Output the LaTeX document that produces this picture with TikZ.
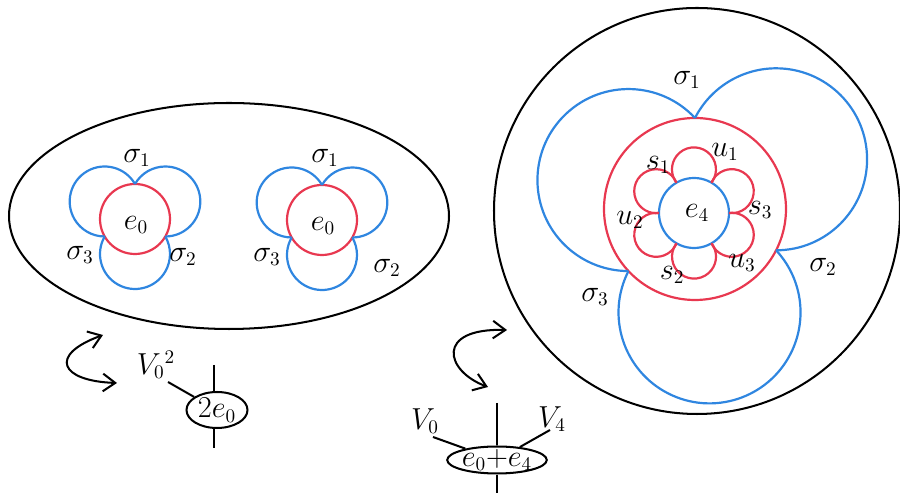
\documentclass[tikz,border=0pt]{standalone}
\usepackage{amsmath}
\usepackage{amssymb}
\usepackage{tikz}
\usetikzlibrary{
	arrows.meta,
	calc,
	shapes.geometric
}
\usepackage{xcolor}
\definecolor{loopred}{RGB}{232,56,80}
\definecolor{loopblue}{RGB}{47,134,224}

\begin{document}
\begin{tikzpicture}[x=0.02cm,y=0.02cm,
		line width=1.15pt,
		font=\fontsize{16}{19}\selectfont,
		redloop/.style={draw=loopred, line width=1.25pt},
		blueloop/.style={draw=loopblue, line width=1.25pt},
		vertex/.style={draw, ellipse, inner sep=0pt},
		>={Straight Barb[length=7pt,width=10pt]}]
		
		\useasboundingbox (0,0) rectangle (900,493);
		
		% Left ellipse
		\draw (229,277) ellipse [x radius=220, y radius=113];
		
		% Two small flowers
		\foreach \cx/\cy/\nm in {135/274/A, 322/273/B}{
			\coordinate (c\nm) at (\cx,\cy);
			\draw[redloop] (c\nm) circle [radius=35];
			\foreach \a/\b in {90/210, 210/330, 330/450}
			\draw[blueloop] (c\nm) ++(\a:35) arc [start angle=\b-180, end angle=\a+180, radius=35];
			\node (e\nm) at ($(c\nm)+(1,-6)$) {$e_0$};
		}
		\node (sigA1) at (137,335) {$\sigma_1$};
		\node (sigA2) at (183,236) {$\sigma_2$};
		\node (sigA3) at (80,238) {$\sigma_3$};
		\node (sigB1) at (325,335) {$\sigma_1$};
		\node (sigB2) at (387,225) {$\sigma_2$};
		\node (sigB3) at (267,236) {$\sigma_3$};
		
		% Big circle
		\draw (697,282) circle [radius=203];
		\coordinate (cR) at (695,284);
		\draw[redloop] (cR) circle [radius=91];
		\foreach \a/\b in {90/223, 223/333, 333/450}
		\draw[blueloop] (cR) ++(\a:91) arc [start angle=\b-180, end angle=\a+180, radius=91];
		
		% Inner flower
		\coordinate (cI) at (694,280);
		\draw[blueloop] (cI) circle [radius=35];
		\foreach \t in {90,30,...,-210}
		\draw[redloop] (cI) ++({\t-30}:35) arc [start angle=\t-127.2, end angle=\t+127.2, radius=22];
		\node (eR) at (697,280) {$e_4$};
		\node (sR1) at (658,328) {$s_1$};
		\node (sR2) at (672,218) {$s_2$};
		\node (sR3) at (760,283) {$s_3$};
		\node (uR1) at (725,341) {$u_1$};
		\node (uR2) at (630,273) {$u_2$};
		\node (uR3) at (742,230) {$u_3$};
		\node (sigR1) at (687,413) {$\sigma_1$};
		\node (sigR2) at (823,226) {$\sigma_2$};
		\node (sigR3) at (595,196) {$\sigma_3$};
		
		% Vertex 2e_0
		\node[vertex, minimum width=1.22cm, minimum height=0.72cm] (dbl) at (217,83) {$2e_0$};
		\coordinate (dblup) at (214,128);
		\coordinate (dbldown) at (214,45);
		\coordinate (dblleg) at (168,111);
		\draw (dblup) -- (dblup |- dbl.north);
		\draw (dbldown |- dbl.south) -- (dbldown);
		\draw (dblleg) -- (dbl);
		\node (dbllabel) at (156,128) {$V_0{}^2$};
		
		\coordinate (swapAa) at (117,110);
		\coordinate (swapAb) at (103,158);
		\draw[<->] (swapAa) .. controls (60,112) and (48,138) .. (swapAb);
		
		% Vertex e_0 + e_4
		\node[vertex, inner xsep=0pt, inner ysep=-2pt, minimum width=1.64cm, minimum height=0.54cm] (sum) at (497,33) {$e_0{+}e_4$};
		\coordinate (sumup) at (497,90);
		\coordinate (sumdown) at (497,0);
		\coordinate (legzero) at (433,56);
		\coordinate (legfour) at (550,63);
		\draw (sumup) -- (sum.north);
		\draw (sum.south) -- (sumdown);
		\draw (legzero) -- (sum);
		\draw (legfour) -- (sum);
		\node (vzero) at (425,72) {$V_0$};
		\node (vfour) at (552,74) {$V_4$};
		
		\coordinate (swapBa) at (488,106);
		\coordinate (swapBb) at (507,163);
		\draw[<->] (swapBa) .. controls (445,122) and (435,165) .. (swapBb);
		
	\end{tikzpicture}
\end{document}
